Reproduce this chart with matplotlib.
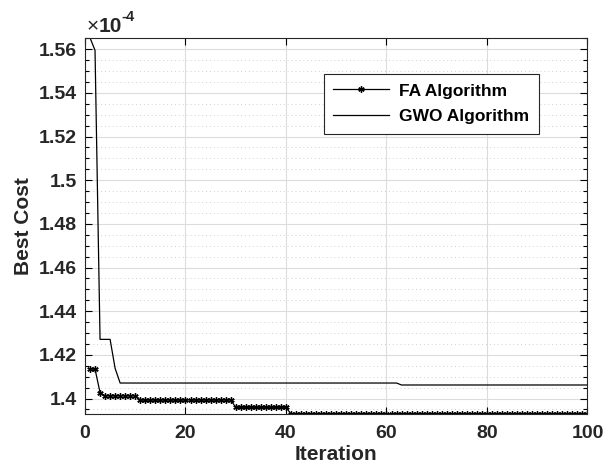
import numpy as np
import matplotlib
matplotlib.use('Agg')
import matplotlib.pyplot as plt
from matplotlib.ticker import MultipleLocator, FuncFormatter

plt.rcParams['font.family'] = ['Liberation Sans', 'DejaVu Sans']

# best cost per iteration, in units of 1e-4
iterations = np.arange(1, 101)

fa_cost = ([1.4135] * 2 + [1.4027] + [1.4013] * 7 + [1.3993] * 19
           + [1.3960] * 11 + [1.3929] * 60)

gwo_cost = ([1.5653, 1.5595] + [1.4271] * 3 + [1.4138] + [1.4071] * 56
            + [1.4062] * 38)

fig = plt.figure(figsize=(6.1, 4.7), dpi=100)
ax = fig.add_axes([0.1393, 0.1191, 0.8238, 0.8007])

ax.plot(iterations, fa_cost, color='black', lw=0.9, marker=(6, 2, 0),
        markersize=4.5, markeredgewidth=1.0, label='FA Algorithm')
ax.plot(iterations, gwo_cost, color='black', lw=0.9, label='GWO Algorithm')

ax.set_xlim(0, 100)
ax.set_ylim(min(fa_cost), max(gwo_cost))
ax.xaxis.set_major_locator(MultipleLocator(20))
ax.yaxis.set_major_locator(MultipleLocator(0.02))
ax.yaxis.set_minor_locator(MultipleLocator(0.005))
ax.yaxis.set_major_formatter(FuncFormatter(lambda v, p: '%g' % round(v, 4)))

ax.grid(True, which='major', color='#dcdcdc', lw=0.8)
ax.grid(True, which='minor', axis='y', color='#d0d0d0', lw=0.7, linestyle=(0, (1, 3)))
ax.set_axisbelow(True)

ax.tick_params(which='both', direction='in', top=True, right=True, width=0.8)
ax.tick_params(which='major', length=5, labelsize=14)
ax.tick_params(axis='x', which='major', pad=8)
ax.tick_params(axis='y', which='major', pad=6)
ax.tick_params(which='minor', length=3)
for lab in ax.get_xticklabels() + ax.get_yticklabels():
    lab.set_fontweight('bold')
    lab.set_color('#262626')
for sp in ax.spines.values():
    sp.set_color('#262626')
    sp.set_linewidth(0.8)

ax.set_xlabel('Iteration', fontsize=15, fontweight='bold', color='#262626', labelpad=2)
ax.set_ylabel('Best Cost', fontsize=15, fontweight='bold', color='#262626', labelpad=4)

# exponent label in the top-left corner
fig.text(87 / 610, 1 - 32 / 470, '\u00d7', fontsize=15, color='#262626',
         ha='left', va='baseline')
fig.text(99 / 610, 1 - 32 / 470, '10', fontsize=15, fontweight='bold',
         color='#262626', ha='left', va='baseline')
fig.text(121 / 610, 1 - 21 / 470, '-4', fontsize=10.5, fontweight='bold',
         color='#262626', ha='left', va='baseline')

leg = ax.legend(loc='upper right', bbox_to_anchor=(0.921, 0.927), fancybox=False,
                edgecolor='#262626', framealpha=1, prop={'weight': 'bold', 'size': 12.5},
                handlelength=3.2, borderpad=0.55, labelspacing=0.6, handletextpad=0.6)
leg.get_frame().set_linewidth(0.8)

fig.savefig('out.png', dpi=100)
